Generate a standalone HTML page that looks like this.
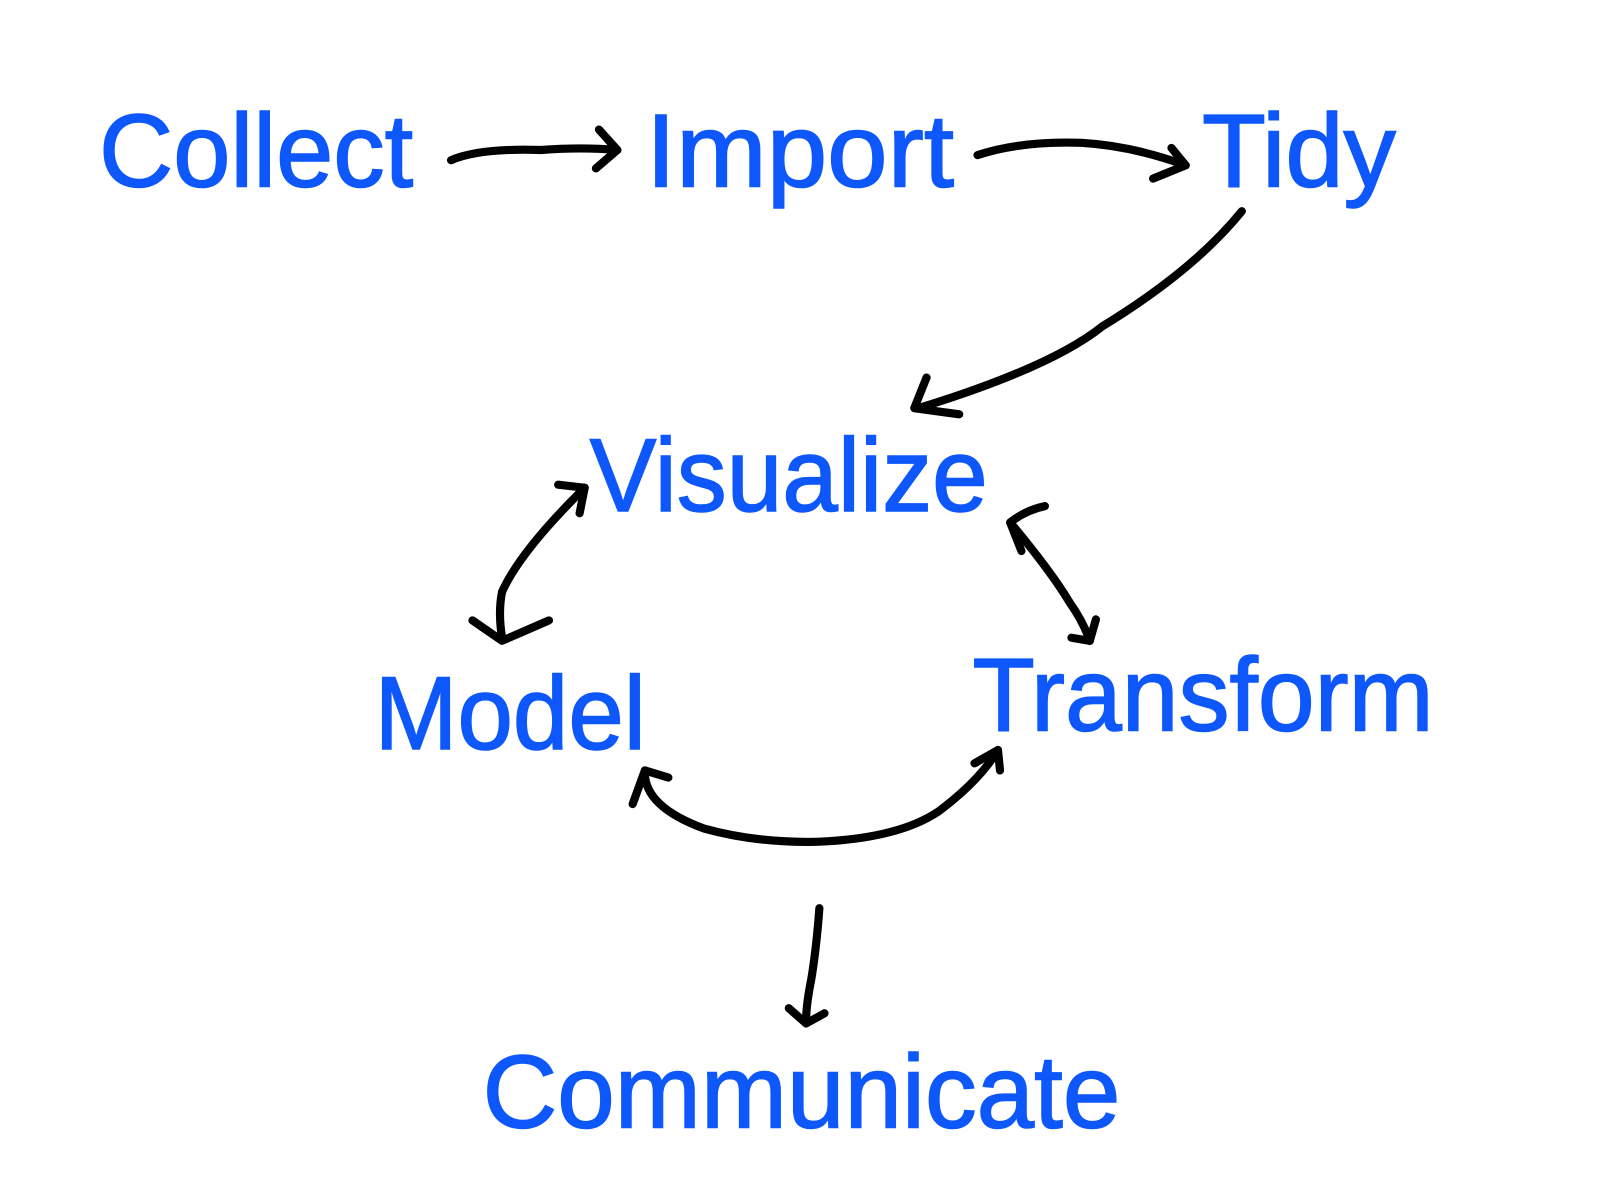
<!DOCTYPE html>
<html><head><meta charset="utf-8"><style>
html,body{margin:0;padding:0;background:#fff;width:1600px;height:1200px;overflow:hidden}
svg{display:block}
text{font-family:"Liberation Sans",sans-serif;fill:#0d57fb;font-size:102px;stroke:#0d57fb;stroke-width:1.5}
path{fill:none;stroke:#000;stroke-width:8;stroke-linecap:round;stroke-linejoin:round}
</style></head><body>
<svg width="1600" height="1200" viewBox="0 0 1568 1176">
<text x="97" y="183" textLength="308" lengthAdjust="spacingAndGlyphs">Collect</text>
<text x="633" y="183" textLength="302" lengthAdjust="spacingAndGlyphs">Import</text>
<text x="1178" y="183" textLength="190" lengthAdjust="spacingAndGlyphs">Tidy</text>
<text x="578" y="501" textLength="390" lengthAdjust="spacingAndGlyphs">Visualize</text>
<text x="367" y="734" textLength="266" lengthAdjust="spacingAndGlyphs">Model</text>
<text x="953" y="716" textLength="452" lengthAdjust="spacingAndGlyphs">Transform</text>
<text x="473" y="1105" textLength="625" lengthAdjust="spacingAndGlyphs">Communicate</text>

<path d="M442 157 Q470 145 530 147 Q570 144 605 147"/>
<path d="M587 127 L605 147 L584 165"/>
<path d="M958 152 Q1000 138 1060 140 Q1110 143 1162 162"/>
<path d="M1148 145 L1162 162 L1130 175"/>
<path d="M1217 207 Q1170 265 1080 320 Q1030 360 900 400"/>
<path d="M908 370 L896 400 L940 406"/>
<path d="M573 478 Q510 540 492 580 Q488 600 492 625"/>
<path d="M547 475 L573 478 L568 503"/>
<path d="M463 608 L492 628 L538 608"/>
<path d="M990 512 Q1030 560 1048 590 Q1062 610 1068 628"/>
<path d="M1024 496 Q1005 500 990 512 L1001 540"/>
<path d="M1050 625 L1068 628 L1074 607"/>
<path d="M632 755 Q630 790 690 812 Q740 826 800 825 Q880 822 920 795 Q960 765 978 735"/>
<path d="M620 788 L632 755 L655 762"/>
<path d="M955 748 L978 735 L980 755"/>
<path d="M803 890 Q800 930 795 960 Q790 985 790 1000"/>
<path d="M773 988 L790 1003 L808 993"/>
</svg>
</body></html>
